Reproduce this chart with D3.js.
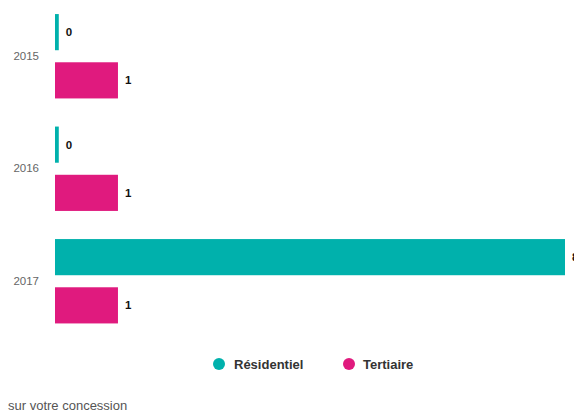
<!DOCTYPE html>
<html>
<head>
<meta charset="utf-8">
<script src="https://cdn.jsdelivr.net/npm/d3@7"></script>
<style>
  html, body { margin: 0; padding: 0; background: #fff; }
  svg { display: block; font-family: "Liberation Sans", Arial, Helvetica, sans-serif; }
</style>
</head>
<body>
<svg id="chart" width="574" height="414"></svg>
<script>
const years = ["2015", "2016", "2017"];
const seriesNames = ["Résidentiel", "Tertiaire"];
const residentiel = [0.06, 0.06, 8.1];
const tertiaire = [1, 1, 1];
const seriesColors = ["#00b1ac", "#e01a7e"];
const footerText = "sur votre concession";

const svg = d3.select("#chart");

const rows = years.map((y, i) => ({ year: y, values: [residentiel[i], tertiaire[i]] }));

const x = d3.scaleLinear()
  .domain([0, d3.max(residentiel.concat(tertiaire))])
  .range([55, 565]);

const y0 = d3.scaleBand()
  .domain(years)
  .range([0, 337.5])
  .paddingInner(0.25)
  .paddingOuter(0.125);

const y1 = d3.scaleBand()
  .domain(seriesNames)
  .range([0, y0.bandwidth()])
  .paddingInner(0.25)
  .paddingOuter(0);

const color = d3.scaleOrdinal().domain(seriesNames).range(seriesColors);

// Year axis
const yAxis = d3.axisLeft(y0).tickSize(0).tickPadding(0);
const ax = svg.append("g").attr("transform", "translate(39,0)").call(yAxis);
ax.select(".domain").remove();
ax.selectAll("text")
  .attr("fill", "#666")
  .style("font-size", "11.5px")
  .style("font-family", "'Liberation Sans', Arial, sans-serif");

const groups = svg.selectAll("g.grp")
  .data(rows)
  .join("g")
  .attr("class", "grp")
  .attr("transform", d => `translate(0,${y0(d.year)})`);

const items = groups.selectAll("g.item")
  .data(d => d.values.map((v, j) => ({ key: seriesNames[j], value: v })))
  .join("g")
  .attr("class", "item");

items.append("rect")
  .attr("x", x(0))
  .attr("y", d => y1(d.key))
  .attr("width", d => x(d.value) - x(0))
  .attr("height", y1.bandwidth())
  .attr("fill", d => color(d.key));

items.append("text")
  .attr("x", d => x(d.value) + 7)
  .attr("y", d => y1(d.key) + y1.bandwidth() / 2)
  .attr("dy", "0.35em")
  .attr("fill", "#111")
  .style("font-size", "11.5px")
  .style("font-weight", "bold")
  .text(d => d3.format(".0f")(d.value));

// Legend
const legendPos = [{ cx: 219, tx: 234 }, { cx: 349, tx: 363 }];
const legend = svg.append("g");
seriesNames.forEach((name, i) => {
  legend.append("circle")
    .attr("cx", legendPos[i].cx)
    .attr("cy", 364)
    .attr("r", 6)
    .attr("fill", color(name));
  legend.append("text")
    .attr("x", legendPos[i].tx)
    .attr("y", 364)
    .attr("dy", "0.35em")
    .attr("fill", "#333")
    .style("font-size", "13px")
    .style("font-weight", "bold")
    .text(name);
});

// Footer
svg.append("text")
  .attr("x", 8)
  .attr("y", 410)
  .attr("fill", "#555")
  .style("font-size", "13px")
  .text(footerText);
</script>
</body>
</html>
